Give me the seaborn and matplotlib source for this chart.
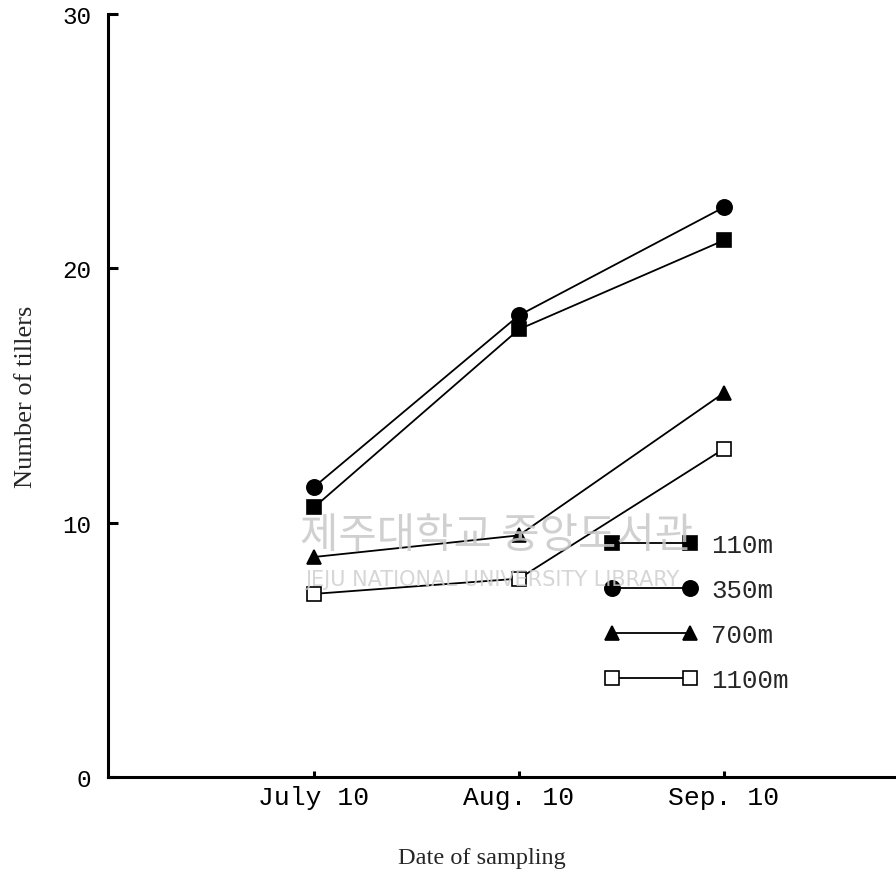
import matplotlib
matplotlib.use("Agg")
import matplotlib.pyplot as plt
import seaborn as sns
import pandas as pd

dates = ["July 10", "Aug. 10", "Sep. 10"]
alt_110 = [10.6, 17.6, 21.1]
alt_350 = [11.4, 18.15, 22.4]
alt_700 = [8.65, 9.5, 15.1]
alt_1100 = [7.2, 7.8, 12.9]
series_labels = ["110m", "350m", "700m", "1100m"]
y_ticks = [0, 10, 20, 30]

sns.set_theme(style="white")
plt.rcParams["font.family"] = ["Liberation Mono", "DejaVu Sans"]

fig = plt.figure(figsize=(8.96, 8.95), dpi=100)
ax = fig.add_axes([108 / 896, 1 - 778 / 895, 1 - 108 / 896, (778 - 15) / 895])

rows = []
for lab, vals in zip(series_labels, [alt_110, alt_350, alt_700, alt_1100]):
    for i, v in enumerate(vals):
        rows.append({"pos": i, "date": dates[i], "tillers": v, "alt": lab})
df = pd.DataFrame(rows)

styles = {
    "110m": dict(marker="s", markerfacecolor="black", markersize=10),
    "350m": dict(marker="o", markerfacecolor="black", markersize=11),
    "700m": dict(marker="^", markerfacecolor="black", markersize=10),
    "1100m": dict(marker="s", markerfacecolor="white", markersize=10),
}
for lab in series_labels:
    sub = df[df["alt"] == lab]
    sns.lineplot(data=sub, x="pos", y="tillers", ax=ax, color="black",
                 linewidth=1.3, markeredgecolor="black", markeredgewidth=1.2,
                 label=lab, **styles[lab])

ax.set_xlim(-1.005, 2.84)
ax.set_ylim(0, 30)
ax.set_xticks(range(len(dates)))
ax.set_xticklabels(dates, fontsize=19)
ax.set_yticks(y_ticks)
ax.set_yticklabels([str(t) for t in y_ticks], fontsize=17.5)

for s in ["top", "right"]:
    ax.spines[s].set_visible(False)
for s in ["left", "bottom"]:
    ax.spines[s].set_linewidth(2.2)
    ax.spines[s].set_color("black")

ax.tick_params(axis="y", direction="in", length=7, width=2.2, pad=12, left=True, colors="black")
ax.tick_params(axis="x", direction="in", length=4, width=2.2, pad=6, bottom=True, colors="black")

ax.set_xlabel("Date of sampling", fontsize=17.5, family="Liberation Serif", labelpad=27)
ax.xaxis.label.set_x((482 - 108) / 788)
ax.set_ylabel("Number of tillers", fontsize=19, family="Liberation Serif", labelpad=18)

leg = ax.legend(loc="upper left", bbox_to_anchor=(604 / 896, 1 - 534 / 895),
                bbox_transform=fig.transFigure, frameon=False, numpoints=2,
                handlelength=3.63, handletextpad=0.55, labelspacing=0.82,
                fontsize=18.5, borderpad=0, borderaxespad=0)

# library watermark
fig.text(300 / 896, 1 - 537 / 895, "제주대학교 중앙도서관", fontsize=30,
         family=["Noto Sans CJK KR"], color="#c8c8c8", va="center", ha="left", alpha=0.85)
fig.text(305 / 896, 1 - 580 / 895, "JEJU NATIONAL UNIVERSITY LIBRARY", fontsize=15,
         family=["DejaVu Sans"], color="#cfcfcf", va="center", ha="left", alpha=0.85)

fig.savefig("out.png", dpi=100)
